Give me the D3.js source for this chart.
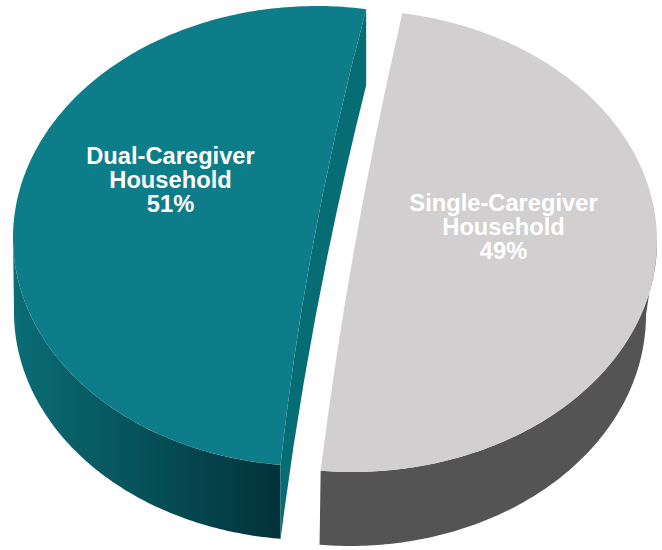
<!DOCTYPE html>
<html>
<head>
<meta charset="utf-8">
<script src="https://cdn.jsdelivr.net/npm/d3@7"></script>
<style>
html,body{margin:0;padding:0;background:#fff;}
svg{display:block;}
text{font-family:"Liberation Sans",Arial,sans-serif;font-weight:700;font-size:23.7px;fill:#fff;text-anchor:middle;}
</style>
</head>
<body>
<svg id="chart" width="662" height="550"></svg>
<script>
// Household composition shares
const categories = ["Single-Caregiver Household", "Dual-Caregiver Household"];
const labelLines = [["Single-Caregiver", "Household"], ["Dual-Caregiver", "Household"]];
const shares = [49, 51];

// Disc drawing parameters for each exploded slice
const topColors = ["#d1cfd0", "#0d7d89"];
const discs = [
  {cx: 352, cy: 241, rx: 305, ry: 231, shear: 0, depth: 74, bcx: 350, brx: 296, bow: -12},
  {cx: 314, cy: 236, rx: 301, ry: 230, shear: -0.011, depth: 74, bcx: 314, brx: 300, bow: -18}
];
const labelPos = [{x: 503.5, y: 211}, {x: 170.5, y: 164}];

const svg = d3.select("#chart");
const defs = svg.append("defs");
const tealSide = defs.append("linearGradient").attr("id", "tealSide")
  .attr("gradientUnits", "userSpaceOnUse").attr("x1", 15).attr("x2", 280).attr("y1", 0).attr("y2", 0);
[[0, "#0a6c75"], [0.5, "#065058"], [1, "#02323a"]].forEach(([o, c]) =>
  tealSide.append("stop").attr("offset", o).attr("stop-color", c));
const sideFill = ["#545454", "url(#tealSide)"];

const arcs = d3.pie().sort(null).value(d => d)
  .startAngle(9.5 * Math.PI / 180)
  .endAngle(369.5 * Math.PI / 180)(shares);

// Elliptical projection of a rim angle onto the top or bottom face
const rimTop = (d, a) => {
  const y = -d.ry * Math.cos(a);
  return [d.cx + d.rx * Math.sin(a) + d.shear * y, d.cy + y];
};
const rimBottom = (d, a) => {
  const y = -d.ry * Math.cos(a);
  return [d.bcx + d.brx * Math.sin(a) + d.shear * y, d.cy + d.depth + y];
};
const sample = (a0, a1, n = 120) => d3.range(n + 1).map(i => a0 + (a1 - a0) * i / n);
const line = d3.line();

// Cut edge through the disc centre, bowed slightly to suit the tilted view
function cutEdge(path, p0, p1, bow) {
  path.quadraticCurveTo((p0[0] + p1[0]) / 2 + bow, (p0[1] + p1[1]) / 2, p1[0], p1[1]);
}

const rad = Math.PI;
arcs.forEach((arc, i) => {
  const d = discs[i];
  const g = svg.append("g").attr("class", "slice").attr("data-category", categories[i]);

  // Outer wall: visible only along the front half of the rim
  const wallStart = Math.max(arc.startAngle, rad / 2);
  const wallEnd = Math.min(arc.endAngle, rad * 1.5);
  const wall = sample(wallStart, wallEnd);
  g.append("path")
    .attr("d", line(wall.map(a => rimTop(d, a)).concat(wall.slice().reverse().map(a => rimBottom(d, a)))) + "Z")
    .attr("fill", sideFill[i]);

  // Cut wall of the larger slice shows through the gap
  if (i === 1) {
    const top0 = rimTop(d, arc.endAngle), bot0 = rimTop(d, arc.startAngle);
    const top1 = [top0[0], top0[1] + d.depth + 2];
    const bot1 = rimBottom(d, arc.startAngle);
    const p = d3.path();
    p.moveTo(top0[0], top0[1]);
    p.lineTo(top1[0], top1[1]);
    cutEdge(p, top1, bot1, -14);
    p.lineTo(bot0[0], bot0[1]);
    cutEdge(p, bot0, top0, d.bow);
    p.closePath();
    g.append("path").attr("d", p.toString()).attr("fill", "#066d75");
  }

  // Top face
  const rim = sample(arc.startAngle, arc.endAngle, 240).map(a => rimTop(d, a));
  const p = d3.path();
  p.moveTo(rim[0][0], rim[0][1]);
  rim.slice(1).forEach(q => p.lineTo(q[0], q[1]));
  cutEdge(p, rim[rim.length - 1], rim[0], d.bow);
  p.closePath();
  g.append("path").attr("d", p.toString()).attr("fill", topColors[i]);

  // Centred label
  const t = g.append("text").attr("x", labelPos[i].x).attr("y", labelPos[i].y);
  labelLines[i].concat(shares[i] + "%").forEach((s, k) =>
    t.append("tspan").attr("x", labelPos[i].x).attr("dy", k ? 24 : 0).text(s));
});
</script>
</body>
</html>
